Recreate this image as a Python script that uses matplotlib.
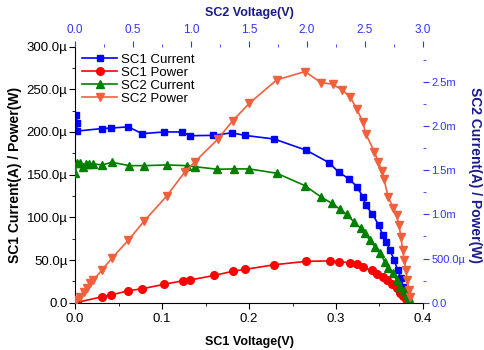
import matplotlib.pyplot as plt
from matplotlib.ticker import MultipleLocator, FuncFormatter

plt.rcParams['font.family'] = ['Liberation Sans', 'DejaVu Sans']

# SC1 (bottom x axis, left y axis)
sc1_i_v = [0.0015, 0.002, 0.002, 0.031, 0.041, 0.061, 0.077, 0.102, 0.123, 0.132,
           0.159, 0.180, 0.195, 0.229, 0.266, 0.292, 0.303, 0.315, 0.324, 0.331,
           0.334, 0.342, 0.349, 0.354, 0.358, 0.362, 0.367, 0.371, 0.375, 0.377,
           0.380, 0.382]
sc1_i = [219.8, 210, 201, 204, 204.5, 206, 198, 200, 200, 195.6,
         196, 199, 196, 191.7, 178.5, 164, 153, 145, 136, 124,
         114, 104, 91, 79, 71.5, 61.7, 50, 38, 28.6, 18.7,
         11, 5]
sc1_p_v = [0.0, 0.001, 0.002, 0.031, 0.041, 0.061, 0.077, 0.102, 0.124, 0.132,
           0.160, 0.181, 0.195, 0.229, 0.266, 0.293, 0.304, 0.316, 0.324, 0.331,
           0.341, 0.347, 0.354, 0.359, 0.365, 0.370, 0.374, 0.377, 0.380]
sc1_p = [0.0, 0.2, 0.4, 7, 9, 14, 16.4, 21.5, 25.8, 26.6,
         32, 36.8, 39, 44.5, 48.5, 49, 48, 46.9, 45, 41.4,
         38, 33.6, 29.7, 26.6, 21.5, 16.8, 11.7, 7.8, 4]

# SC2 (top x axis, right y axis)
sc2_i_v = [0.0, 0.015, 0.043, 0.066, 0.095, 0.115, 0.158, 0.235, 0.316, 0.468,
           0.597, 0.79, 0.963, 1.034, 1.227, 1.371, 1.5, 1.739, 1.983, 2.118,
           2.213, 2.284, 2.342, 2.408, 2.463, 2.5, 2.543, 2.586, 2.629, 2.672,
           2.7, 2.744, 2.773, 2.802, 2.836, 2.86, 2.88]
sc2_i = [1.466, 1.579, 1.579, 1.54, 1.571, 1.571, 1.571, 1.56, 1.59, 1.552,
         1.552, 1.56, 1.552, 1.54, 1.511, 1.515, 1.515, 1.466, 1.325, 1.2,
         1.126, 1.058, 1.0, 0.911, 0.843, 0.786, 0.71, 0.634, 0.56, 0.464,
         0.39, 0.333, 0.257, 0.181, 0.132, 0.087, 0.05]
sc2_p_v = [0.009, 0.043, 0.072, 0.1, 0.129, 0.158, 0.23, 0.316, 0.46, 0.595,
           0.79, 0.948, 1.034, 1.23, 1.36, 1.503, 1.739, 1.983, 2.121, 2.222,
           2.3, 2.371, 2.43, 2.48, 2.509, 2.58, 2.615, 2.644, 2.664, 2.701,
           2.746, 2.773, 2.793, 2.81, 2.825, 2.839, 2.853, 2.865, 2.879, 2.888]
sc2_p = [0.031, 0.068, 0.118, 0.163, 0.22, 0.257, 0.37, 0.503, 0.71, 0.925,
         1.209, 1.484, 1.597, 1.851, 2.062, 2.259, 2.523, 2.617, 2.492, 2.474,
         2.41, 2.334, 2.19, 2.05, 1.908, 1.71, 1.597, 1.495, 1.398, 1.194,
         1.07, 0.993, 0.88, 0.748, 0.597, 0.484, 0.37, 0.257, 0.144, 0.068]

blue = '#0000ff'
navy = '#1a1a8c'
tick_blue = '#3333ff'


def fmt_eng(x, pos):
    if abs(x) < 1e-12:
        return '0.0'
    if abs(x) >= 1e-3:
        return f'{x * 1e3:.1f}m'
    return f'{x * 1e6:.1f}\u00b5'


fig = plt.figure(figsize=(4.85, 3.5), dpi=100)
rect = [0.155, 0.135, 0.717, 0.732]
ax = fig.add_axes(rect)
ax2 = fig.add_axes(rect, frameon=False)
ax2.patch.set_visible(False)

ms = 5
l1, = ax.plot(sc1_i_v, [v * 1e-6 for v in sc1_i], '-s', color=blue, ms=ms, lw=1.2, label='SC1 Current')
l2, = ax.plot(sc1_p_v, [v * 1e-6 for v in sc1_p], '-o', color='#ff0000', ms=ms + 0.5, lw=1.2, label='SC1 Power')
l3, = ax2.plot(sc2_i_v, [v * 1e-3 for v in sc2_i], '-^', color='#008000', ms=ms + 0.5, lw=1.2, label='SC2 Current')
l4, = ax2.plot(sc2_p_v, [v * 1e-3 for v in sc2_p], '-v', color='#f0603c', ms=ms + 0.5, lw=1.2, label='SC2 Power')

ax.set_xlim(0, 0.4)
ax.set_ylim(0, 300e-6)
ax.xaxis.set_major_locator(MultipleLocator(0.1))
ax.xaxis.set_minor_locator(MultipleLocator(0.05))
ax.yaxis.set_major_locator(MultipleLocator(50e-6))
ax.yaxis.set_minor_locator(MultipleLocator(25e-6))
ax.yaxis.set_major_formatter(FuncFormatter(fmt_eng))
ax.xaxis.set_major_formatter(FuncFormatter(lambda x, p: f'{x:.1f}'))
ax.tick_params(which='both', direction='out', labelsize=9.5)
ax.tick_params(axis='y', pad=1.5)
ax.tick_params(which='major', length=4)
ax.tick_params(which='minor', length=2.5)
ax.set_xlabel('SC1 Voltage(V)', fontsize=9, fontweight='bold', labelpad=8)
ax.set_ylabel('SC1 Current(A) / Power(W)', fontsize=10, fontweight='bold', labelpad=3)
ax.spines['top'].set_visible(False)
ax.spines['right'].set_visible(False)

ax2.set_xlim(0, 3.0)
ax2.set_ylim(0, 2.9e-3)
ax2.xaxis.tick_top()
ax2.xaxis.set_label_position('top')
ax2.yaxis.tick_right()
ax2.yaxis.set_label_position('right')
ax2.xaxis.set_major_locator(MultipleLocator(0.5))
ax2.xaxis.set_minor_locator(MultipleLocator(0.25))
ax2.yaxis.set_major_locator(MultipleLocator(0.5e-3))
ax2.yaxis.set_minor_locator(MultipleLocator(0.25e-3))
ax2.yaxis.set_major_formatter(FuncFormatter(fmt_eng))
ax2.xaxis.set_major_formatter(FuncFormatter(lambda x, p: f'{x:.1f}'))
ax2.tick_params(which='both', direction='out', labelsize=8.5, colors=tick_blue)
ax2.tick_params(axis='y', labelsize=8, pad=2)
ax2.tick_params(which='major', length=4)
ax2.tick_params(which='minor', length=2.5)
ax2.set_xlabel('SC2 Voltage(V)', fontsize=9, fontweight='bold', color=navy, labelpad=6)
ax2.set_ylabel('SC2 Current(A) / Power(W)', fontsize=10, fontweight='bold', color=navy,
               rotation=-90, va='bottom', labelpad=2)
for s in ['top', 'right']:
    ax2.spines[s].set_visible(True)
    ax2.spines[s].set_color(tick_blue)
for s in ['bottom', 'left']:
    ax2.spines[s].set_visible(False)

ax2.legend(handles=[l1, l2, l3, l4], loc='upper left', frameon=False, fontsize=9.5,
           handlelength=2.6, handletextpad=0.3, labelspacing=0.05, borderaxespad=0.15)

plt.savefig('out.png', dpi=100)
plt.close()
